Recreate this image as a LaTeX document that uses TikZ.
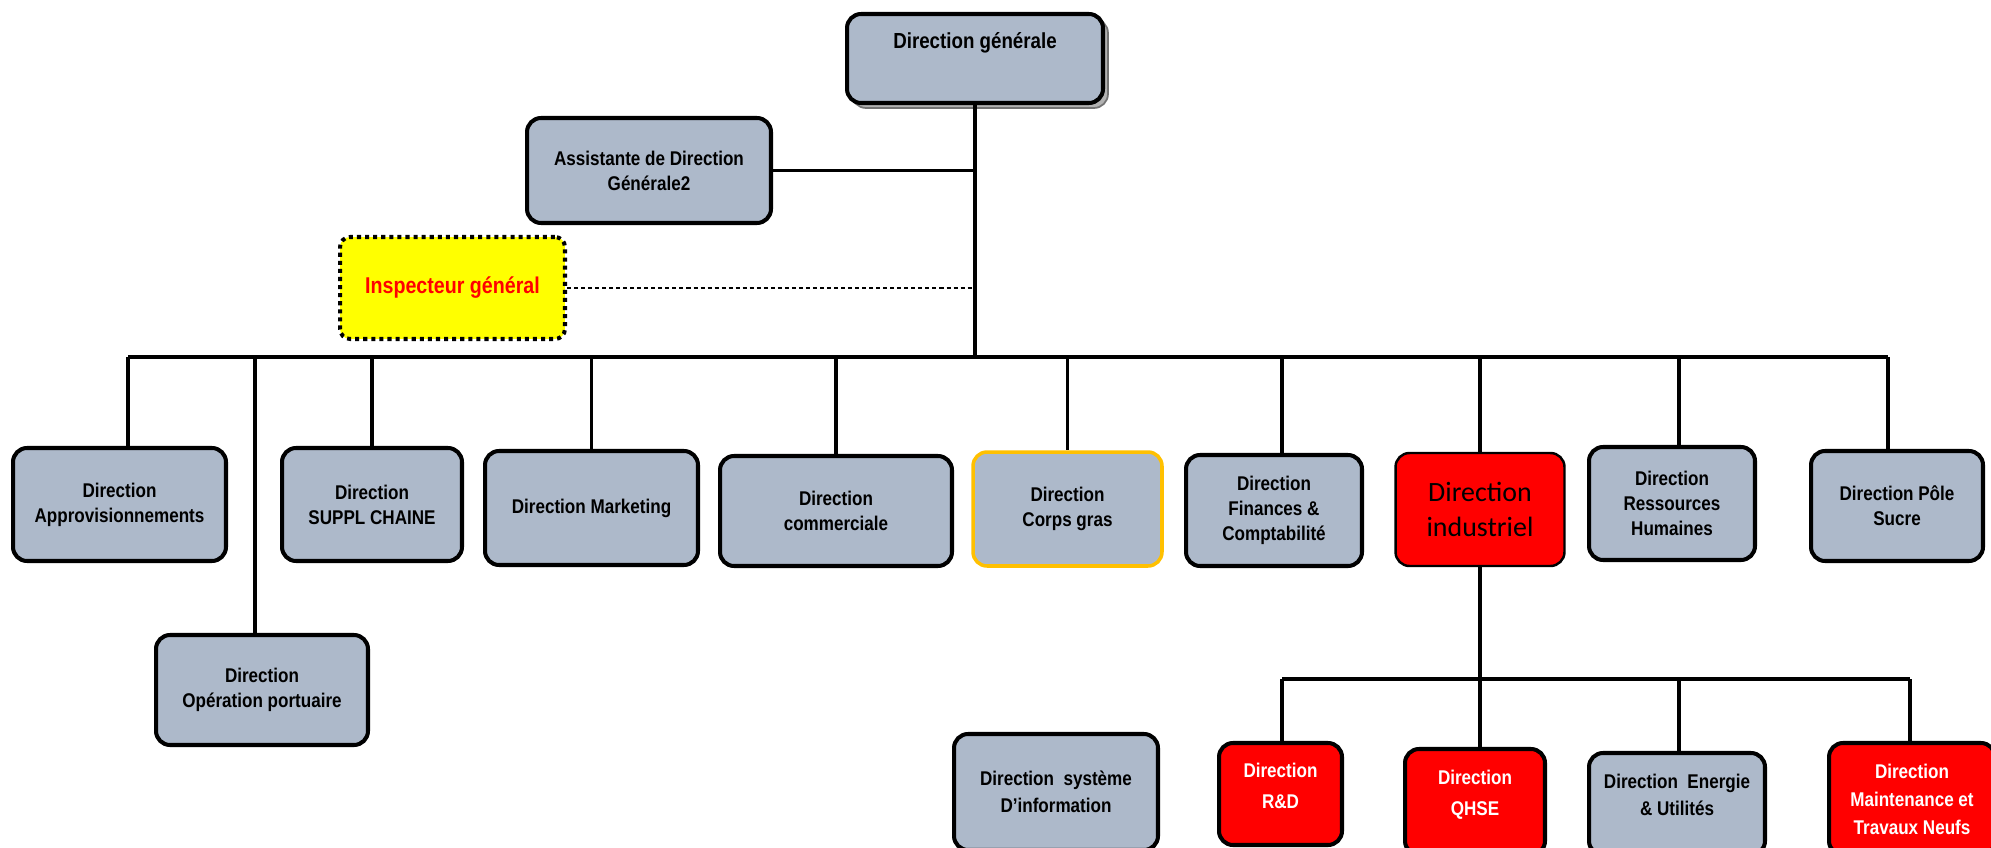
\documentclass[tikz,border=0pt]{standalone}
\usepackage{fontspec}
\setmainfont{Liberation Sans}[FakeStretch=0.86]
\newfontfamily\calfont{Carlito}
\usepackage{xcolor}
\usepackage{tikz}
\definecolor{boxgrey}{RGB}{173,185,202}
\definecolor{boxgold}{RGB}{255,192,0}
\definecolor{boxred}{RGB}{255,0,0}
\definecolor{boxyellow}{RGB}{255,255,0}
\newcommand\dirfont{\fontsize{11.3}{14.2}\selectfont\bfseries}

\begin{document}
\begin{tikzpicture}[x=0.02cm, y=-0.02cm,
  %% styles
  dir/.style={rectangle, rounded corners=0.28cm,
              draw=black, line width=2.3pt, fill=boxgrey,
              inner sep=0pt, align=center, font=\dirfont},
  redir/.style={dir, fill=boxred, text=white},
  link/.style={draw=black, line width=2pt},
  staff/.style={draw=black, line width=0.6pt, dash pattern=on 2.3pt off 1.7pt},
]
\useasboundingbox (0,0) rectangle (1991,848);
\clip (0,0) rectangle (1991,848);

%% ------ top ----------------------------------------------------------
\node[dir, line width=1pt, draw=black!55, fill=black!30,
      minimum width=5.12cm, minimum height=1.78cm] (dgshadow) at (980,63.5) {};
\node[dir, minimum width=5.12cm, text height=0.7cm, text depth=1.08cm,
      font=\fontsize{12.4}{15}\selectfont\bfseries] (dg) at (975,58.5)
  {Direction générale};

\node[dir, minimum width=4.88cm, minimum height=2.1cm] (assist) at (649,170.5)
  {Assistante de Direction\\Générale2};

\node[dir, fill=boxyellow, text=boxred, dash pattern=on 2.3pt off 2.3pt,
      rounded corners=0.2cm, minimum width=4.5cm, minimum height=2.04cm,
      font=\fontsize{13}{15}\selectfont\bfseries] (insp) at (452.5,288)
  {Inspecteur général};

%% ------ first level --------------------------------------------------
\node[dir, minimum width=4.26cm, minimum height=2.26cm] (appro) at (119.5,504.5)
  {Direction\\Approvisionnements};
\node[dir, minimum width=3.6cm, minimum height=2.26cm] (suppl) at (372,504.5)
  {Direction\\SUPPL CHAINE};
\node[dir, minimum width=4.26cm, minimum height=2.28cm] (mkt) at (591.5,508)
  {Direction Marketing};
\node[dir, minimum width=4.64cm, minimum height=2.2cm] (comm) at (836,511)
  {Direction\\commerciale};
\node[dir, draw=boxgold, line width=2pt,
      minimum width=3.78cm, minimum height=2.28cm] (corps) at (1067.5,509)
  {Direction\\Corps gras};
\node[dir, minimum width=3.52cm, minimum height=2.22cm] (fin) at (1274,510.5)
  {Direction\\Finances \&\\Comptabilité};
\node[dir, fill=boxred, line width=1.4pt,
      minimum width=3.38cm, minimum height=2.26cm,
      font=\calfont\fontsize{15.9}{20.4}\selectfont] (indus) at (1480,509.5)
  {Direction\\industriel};
\node[dir, minimum width=3.32cm, minimum height=2.26cm] (rh) at (1672,503.5)
  {Direction\\Ressources\\Humaines};
\node[dir, minimum width=3.44cm, minimum height=2.2cm] (sucre) at (1897,506)
  {Direction Pôle\\Sucre};
\node[dir, minimum width=4.24cm, minimum height=2.2cm] (port) at (262,690)
  {Direction\\Opération portuaire};

%% ------ second level -------------------------------------------------
\node[dir, minimum width=4.08cm, minimum height=2.32cm,
      font=\fontsize{11.3}{15.3}\selectfont\bfseries] (sysinfo) at (1056,792)
  {Direction~ système\\D’information};
\node[redir, minimum width=2.46cm, text height=1.3cm, text depth=0.74cm,
      font=\fontsize{11.3}{17.6}\selectfont\bfseries] (rnd) at (1280.5,794)
  {Direction\\R\&D};
\node[redir, minimum width=2.8cm, text height=1.32cm, text depth=0.8cm,
      font=\fontsize{11.3}{17.6}\selectfont\bfseries] (qhse) at (1475,802)
  {Direction\\QHSE};
\node[dir, minimum width=3.52cm, text height=1.24cm, text depth=0.8cm,
      font=\fontsize{11.3}{15.3}\selectfont\bfseries] (energie) at (1677,804)
  {Direction~ Energie\\\& Utilités};
\node[redir, minimum width=3.32cm, minimum height=2.24cm,
      font=\fontsize{11.3}{15.9}\selectfont\bfseries] (maint) at (1912,799)
  {Direction\\Maintenance et\\Travaux Neufs};

%% ------ connectors ---------------------------------------------------
\coordinate (busL) at (128,357);
\coordinate (busR) at (1888,357);
\draw[link] (dg.south) -- (dg.south |- busL);
\draw[link] (assist.east) -- (assist.east -| dg.south);
\draw[staff] (insp.east) -- (insp.east -| dg.south);
\draw[link] (busL) -- (busR);

%% drops to first level
\coordinate (dPort)  at (255,357);
\coordinate (dFin)   at (1282,357);
\coordinate (dRh)    at (1679,357);
\draw[link] (busL) -- (busL |- appro.north);
\draw[link] (dPort) -- (dPort |- port.north);
\draw[link] (suppl.north |- busL) -- (suppl.north);
\draw[link] (mkt.north |- busL) -- (mkt.north);
\draw[link] (comm.north |- busL) -- (comm.north);
\draw[link] (corps.north |- busL) -- (corps.north);
\draw[link] (dFin) -- (dFin |- fin.north);
\draw[link] (indus.north |- busL) -- (indus.north);
\draw[link] (dRh) -- (dRh |- rh.north);
\draw[link] (busR) -- (busR |- sucre.north);

%% industrial branch
\coordinate (subL) at (1282,679);
\coordinate (subR) at (1910,679);
\draw[link] (indus.south) -- (indus.south |- subL);
\draw[link] (subL) -- (subR);
\draw[link] (subL) -- (subL |- rnd.north);
\draw[link] (indus.south |- subL) -- (indus.south |- qhse.north);
\draw[link] (dRh |- subL) -- (dRh |- energie.north);
\draw[link] (subR) -- (subR |- maint.north);

\end{tikzpicture}
\end{document}
